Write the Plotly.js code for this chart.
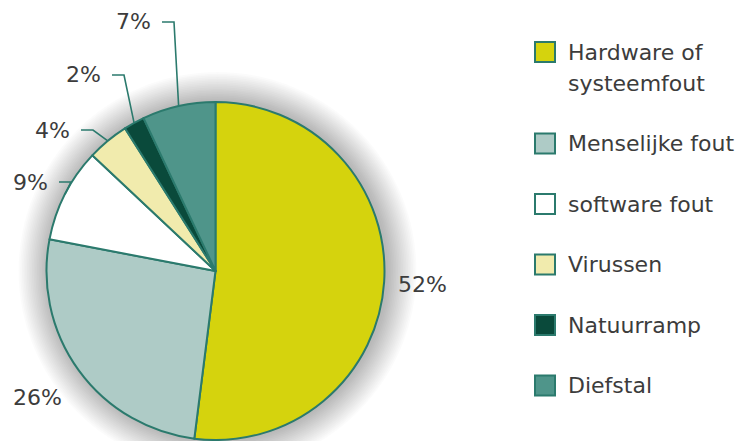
<!DOCTYPE html>
<html>
<head>
<meta charset="utf-8">
<script src="https://cdn.plot.ly/plotly-3.0.1.min.js"></script>
<style>
html,body{margin:0;padding:0;background:#fff;}
#chart{width:741px;height:441px;}
</style>
</head>
<body>
<div id="chart"></div>
<script>
// ---- data ----
const labels = ['Hardware of<br>systeemfout', 'Menselijke fout', 'software fout', 'Virussen', 'Natuurramp', 'Diefstal'];
const values = [52, 26, 9, 4, 2, 7];
const pctLabels = values.map(v => v + '%');
const colors = ['#d5d30d', '#aecbc6', '#ffffff', '#f1ebad', '#0a4a3b', '#4f958a'];

// ---- layout constants ----
const W = 741, H = 441;
const lineColor = '#2b7a6d';
const textColor = '#3c3c3c';
const font = 'DejaVu Sans, Arial, sans-serif';
const fs = 22;
const dom = {x: [(215.5 - 169) / W, (215.5 + 169) / W], y: [1 / H, 339 / H]};
// label anchor positions (pixels) for the percentage labels
const labelAnchor = [
  {x: 422, y: 284, a: 'center'},
  {x: 37, y: 397, a: 'center'},
  {x: 50, y: 182, a: 'right', lead: true},
  {x: 72, y: 130, a: 'right', lead: true},
  {x: 103, y: 75, a: 'right', lead: true},
  {x: 153, y: 22, a: 'right', lead: true}
];
const legend = {sqX: 535, sq: 20, textX: 566, yFirst: 52, gapExtra: 31, step: 60.5};
const glow = {steps: 18, spread: 30, alpha: 0.014, dx: 2};

const px = x => x / W;
const py = y => 1 - y / H;

// pie geometry (pixels), same as Plotly: center of domain, radius = min/2
const cx = (dom.x[0] + dom.x[1]) / 2 * W;
const cy = (1 - (dom.y[0] + dom.y[1]) / 2) * H;
const R = Math.min((dom.x[1] - dom.x[0]) * W, (dom.y[1] - dom.y[0]) * H) / 2;
const total = values.reduce((a, b) => a + b, 0);

const annotations = [];
const shapes = [];

// soft shadow around the pie (decorative, below the trace)
for (let s = glow.steps; s >= 1; s--) {
  const rr = R + glow.spread * s / glow.steps;
  shapes.push({
    type: 'circle', xref: 'paper', yref: 'paper', layer: 'below',
    x0: px(cx + glow.dx - rr), x1: px(cx + glow.dx + rr),
    y0: py(cy + rr), y1: py(cy - rr),
    fillcolor: `rgba(0,0,0,${glow.alpha})`, line: {width: 0}
  });
}

let cum = 0;
values.forEach((v, i) => {
  const mid = (cum + v / 2) / total * 2 * Math.PI;
  cum += v;
  const rx = cx + R * Math.sin(mid);
  const ry = cy - R * Math.cos(mid);
  const la = labelAnchor[i];
  annotations.push({
    xref: 'paper', yref: 'paper', x: px(la.x), y: py(la.y),
    xanchor: la.a, yanchor: 'middle', showarrow: false,
    text: pctLabels[i], font: {family: font, size: fs, color: textColor}
  });
  if (la.lead) {
    shapes.push({
      type: 'path', xref: 'paper', yref: 'paper',
      path: `M${px(la.x + 9)},${py(la.y)} L${px(la.x + 21)},${py(la.y)} L${px(rx)},${py(ry)}`,
      line: {color: lineColor, width: 1.6}
    });
  }
});

// custom legend built from labels/colors
let ly = legend.yFirst;
labels.forEach((lab, i) => {
  shapes.push({
    type: 'rect', xref: 'paper', yref: 'paper',
    x0: px(legend.sqX), x1: px(legend.sqX + legend.sq),
    y0: py(ly - legend.sq / 2), y1: py(ly + legend.sq / 2),
    fillcolor: colors[i], line: {color: lineColor, width: 2}
  });
  const lines = lab.split('<br>');
  lines.forEach((t, k) => {
    annotations.push({
      xref: 'paper', yref: 'paper', x: px(legend.textX), y: py(ly + k * legend.gapExtra),
      xanchor: 'left', yanchor: 'middle', showarrow: false,
      text: t, font: {family: font, size: fs, color: textColor}
    });
  });
  ly += legend.step + (lines.length - 1) * legend.gapExtra;
});

const trace = {
  type: 'pie',
  values: values,
  labels: labels,
  sort: false,
  direction: 'clockwise',
  rotation: 0,
  textinfo: 'none',
  hoverinfo: 'skip',
  showlegend: false,
  marker: {colors: colors, line: {color: lineColor, width: 2}},
  domain: dom
};

const layout = {
  width: W, height: H,
  margin: {l: 0, r: 0, t: 0, b: 0},
  paper_bgcolor: '#ffffff',
  plot_bgcolor: '#ffffff',
  showlegend: false,
  annotations: annotations,
  shapes: shapes
};

Plotly.newPlot('chart', [trace], layout, {displayModeBar: false, staticPlot: true});
</script>
</body>
</html>
